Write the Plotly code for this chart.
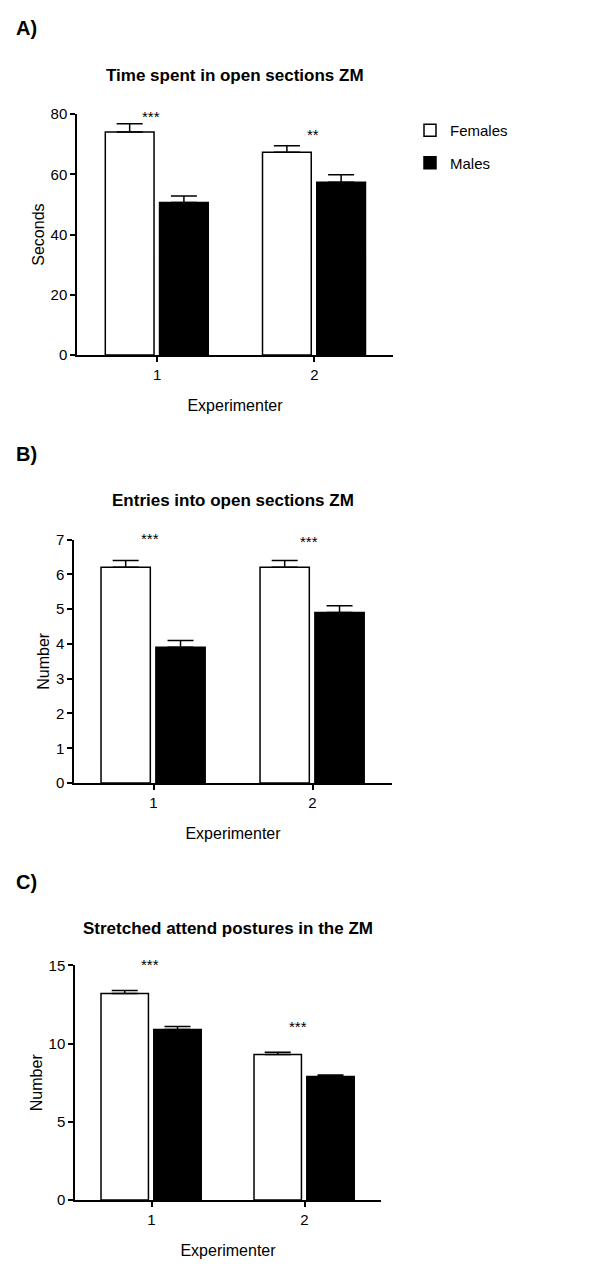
import plotly.graph_objects as go

# ---------------- data ----------------
groups = [1, 2]
group_labels = ["1", "2"]

a_female = [74.1, 67.4]
a_female_sem = [2.7, 2.1]
a_male = [50.7, 57.4]
a_male_sem = [2.1, 2.5]
a_stars = ["***", "**"]

b_female = [6.2, 6.2]
b_female_sem = [0.2, 0.2]
b_male = [3.9, 4.9]
b_male_sem = [0.2, 0.2]
b_stars = ["***", "***"]

c_female = [13.2, 9.3]
c_female_sem = [0.2, 0.15]
c_male = [10.9, 7.9]
c_male_sem = [0.2, 0.1]
c_stars = ["***", "***"]

panel_titles = ["Time spent in open sections ZM",
                "Entries into open sections ZM",
                "Stretched attend postures in the ZM"]
panel_letters = ["A)", "B)", "C)"]
y_titles = ["Seconds", "Number", "Number"]
x_title = "Experimenter"

# ---------------- styling ----------------
FONT = "Liberation Sans Narrow, Arial Narrow, Liberation Sans, Arial, sans-serif"
BOLD = "Liberation Sans, Arial, sans-serif"
H = 1273.0
W = 600.0
# vertical calibration of the page capture (measured): shown_y = 8 + 0.9875 * figure_y
OFF, K = 8.0, 0.9875


def Y(px):
    """paper y fraction for a wanted on-screen pixel row"""
    return 1 - ((px - OFF) / K) / H


def ydom(top, bottom):
    return [Y(bottom), Y(top)]


panels = [
    dict(female=a_female, fsem=a_female_sem, male=a_male, msem=a_male_sem, stars=a_stars,
         xdom=[77 / W, 393 / W], ydom=ydom(113.3, 354.3), yrange=[0, 80], dtick=20,
         xrange=[0.49, 2.5], star_x=[0.96, 1.99], star_shift=[-3, 1],
         title_y=75, letter_y=27),
    dict(female=b_female, fsem=b_female_sem, male=b_male, msem=b_male_sem, stars=b_stars,
         xdom=[74 / W, 392 / W], ydom=ydom(539, 782.7), yrange=[0, 7], dtick=1,
         xrange=[0.5, 2.5], star_x=[0.98, 1.98], star_shift=[11, 8],
         title_y=500, letter_y=453),
    dict(female=c_female, fsem=c_female_sem, male=c_male, msem=c_male_sem, stars=c_stars,
         xdom=[75 / W, 381 / W], ydom=ydom(965.3, 1200), yrange=[0, 15], dtick=5,
         xrange=[0.5, 2.5], star_x=[0.99, 1.96], star_shift=[15, 15],
         title_y=928, letter_y=882),
]

fig = go.Figure()
annotations = []

for i, p in enumerate(panels):
    n = "" if i == 0 else str(i + 1)
    xa, ya = "x" + n, "y" + n
    fig.add_trace(go.Bar(
        x=groups, y=p["female"], name="Females", legendgroup="f", showlegend=(i == 0),
        width=0.31, offset=-0.33, xaxis=xa, yaxis=ya,
        marker=dict(color="white", line=dict(color="black", width=1.5)),
        error_y=dict(type="data", array=p["fsem"], arrayminus=[0, 0], symmetric=False,
                     color="black", thickness=1.5, width=13),
    ))
    fig.add_trace(go.Bar(
        x=groups, y=p["male"], name="Males", legendgroup="m", showlegend=(i == 0),
        width=0.31, offset=0.015, xaxis=xa, yaxis=ya,
        marker=dict(color="black", line=dict(color="black", width=1.5)),
        error_y=dict(type="data", array=p["msem"], arrayminus=[0, 0], symmetric=False,
                     color="black", thickness=1.5, width=13),
    ))
    fig.update_layout(**{
        "xaxis" + n: dict(domain=p["xdom"], range=p["xrange"], anchor=ya,
                          tickmode="array", tickvals=groups, ticktext=group_labels,
                          ticks="outside", ticklen=5, tickwidth=1.5, tickcolor="black",
                          showline=True, linecolor="black", linewidth=1.5,
                          showgrid=False, zeroline=False,
                          tickfont=dict(family=FONT, size=15, color="black"),
                          title=dict(text=x_title, font=dict(family=FONT, size=16, color="black"),
                                     standoff=18)),
        "yaxis" + n: dict(domain=p["ydom"], range=p["yrange"], anchor=xa, dtick=p["dtick"],
                          ticks="outside", ticklen=5, tickwidth=1.5, tickcolor="black",
                          showline=True, linecolor="black", linewidth=1.5,
                          showgrid=False, zeroline=False,
                          tickfont=dict(family=FONT, size=15, color="black"),
                          title=dict(text=y_titles[i], font=dict(family=FONT, size=16, color="black"),
                                     standoff=2)),
    })
    tops = [v + e for v, e in zip(p["female"], p["fsem"])]
    for sx, sy, sh, s in zip(p["star_x"], tops, p["star_shift"], p["stars"]):
        annotations.append(dict(x=sx, y=sy, xref=xa, yref=ya, text=s, showarrow=False,
                                font=dict(family=FONT, size=15, color="black"),
                                yanchor="bottom", yshift=sh))
    cx = (p["xdom"][0] + p["xdom"][1]) / 2
    annotations.append(dict(x=cx, y=Y(p["title_y"]), xref="paper", yref="paper",
                            text="<b>" + panel_titles[i] + "</b>", showarrow=False,
                            font=dict(family=FONT, size=17, color="black"),
                            xanchor="center", yanchor="middle"))
    annotations.append(dict(x=14 / W, y=Y(p["letter_y"]), xref="paper", yref="paper",
                            text="<b>" + panel_letters[i] + "</b>", showarrow=False,
                            font=dict(family=BOLD, size=20, color="black"),
                            xanchor="left", yanchor="middle"))

fig.update_layout(
    width=600, height=1273,
    margin=dict(l=0, r=0, t=0, b=0),
    paper_bgcolor="white", plot_bgcolor="white",
    barmode="overlay",
    showlegend=True,
    legend=dict(x=410 / W, y=Y(113), xanchor="left", yanchor="top",
                font=dict(family=FONT, size=15, color="black"),
                tracegroupgap=10, bgcolor="rgba(0,0,0,0)"),
    annotations=annotations,
)

fig.write_html("out.html", config={"displayModeBar": False},
               post_script="document.body.style.margin='0';document.body.style.overflow='hidden';")
